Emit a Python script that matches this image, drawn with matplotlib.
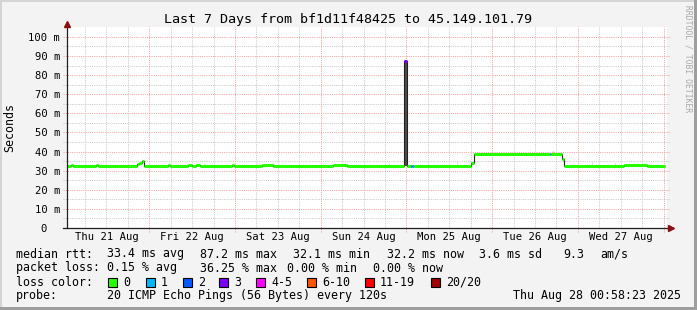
import matplotlib
matplotlib.use("Agg")
import matplotlib.pyplot as plt
from matplotlib.patches import Rectangle
from datetime import datetime, timedelta

plt.rcParams['font.family'] = ['DejaVu Sans Mono']

# ── Data (hours since start of graph) ───────────────────────────
start = datetime(2025, 8, 21, 0, 58, 23)
span_h = 168.0

seg_start = [0.0, 1.1, 1.7, 8.1, 8.7, 19.6, 20.2, 21.0, 21.6, 28.3, 28.8, 33.9, 35.0,
             36.0, 37.2, 46.2, 46.8, 54.6, 57.7, 74.5, 78.4, 94.4, 95.2, 96.3, 96.6,
             97.1, 113.2, 113.9, 135.3, 135.6, 138.5, 139.2, 156.0, 162.4]
seg_end = seg_start[1:] + [167.5]
median_ms = [32.5, 33.0, 32.5, 33.0, 32.5, 33.5, 34.0, 35.1, 32.5, 33.0, 32.5, 33.0, 32.5,
             33.0, 32.5, 33.0, 32.5, 33.0, 32.5, 33.0, 32.5, 87.2, 32.5, 32.5, 32.5,
             32.5, 34.0, 38.9, 38.9, 38.9, 36.0, 32.5, 33.0, 32.5]
loss_idx = [0, 0, 0, 0, 0, 0, 0, 0, 0, 0, 0, 0, 0,
            0, 0, 0, 0, 0, 0, 0, 0, 3, 0, 2, 1,
            0, 0, 0, 1, 0, 0, 0, 0, 0]

# smoke (spread of the individual pings)
smoke_start = [90.2, 94.4, 109.2, 136.0, 147.0, 153.4]
smoke_end = [90.5, 95.2, 109.5, 136.3, 147.3, 153.7]
smoke_lo = [32.5, 32.5, 32.5, 38.9, 32.5, 32.5]
smoke_hi = [34.0, 87.2, 34.5, 40.3, 34.5, 34.0]
smoke_density = [0.15, 0.85, 0.15, 0.2, 0.15, 0.15]

loss_labels = ['0', '1', '2', '3', '4-5', '6-10', '11-19', '20/20']
loss_colors = ['#26ff00', '#00b8ff', '#0059ff', '#7e00ff', '#ff00ff', '#ff5500', '#ff0000', '#a10000']

day_labels = ['Thu 21 Aug', 'Fri 22 Aug', 'Sat 23 Aug', 'Sun 24 Aug',
              'Mon 25 Aug', 'Tue 26 Aug', 'Wed 27 Aug']
y_ticks = [0, 10, 20, 30, 40, 50, 60, 70, 80, 90, 100]
y_labels = ['0  '] + [f'{v} m' for v in y_ticks[1:]]

title = 'Last 7 Days from bf1d11f48425 to 45.149.101.79'
legend_rows = [
    [('median rtt:', 16), ('33.4 ms avg', 107), ('87.2 ms max', 200), ('32.1 ms min', 293),
     ('32.2 ms now', 387), ('3.6 ms sd', 479), ('9.3', 563), ('am/s', 600)],
    [('packet loss:', 16), ('0.15 % avg', 107), ('36.25 % max', 200), ('0.00 % min', 287),
     ('0.00 % now', 373)],
    [('loss color:', 16)],
    [('probe:', 16), ('20 ICMP Echo Pings (56 Bytes) every 120s', 107),
     ('Thu Aug 28 00:58:23 2025', 513)],
]
box_x = [108, 146, 183, 219, 256, 307, 365, 431]

# ── Figure setup ────────────────────────────────────────────────
W, H = 697, 310
fig = plt.figure(figsize=(W / 100, H / 100), dpi=100, facecolor='#f3f3f3')
ax = fig.add_axes([67 / W, (H - 228) / H, 600 / W, 201 / H])
ax.set_facecolor('#ffffff')
ax.set_xlim(0, span_h)
ax.set_ylim(0, 105.2)
for s in ax.spines.values():
    s.set_visible(False)

# ── Grid ────────────────────────────────────────────────────────
dots = (0, (1, 1.2))
for y in range(5, 100, 10):
    ax.plot([-4 / 600, 1 + 3 / 600], [y, y], transform=ax.get_yaxis_transform(),
            clip_on=False, color='#c8c8c8', lw=0.72, ls=dots, zorder=0.5)
for y in range(10, 101, 10):
    ax.plot([-4 / 600, 1 + 3 / 600], [y, y], transform=ax.get_yaxis_transform(),
            clip_on=False, color='#f0a0a0', lw=0.72, ls=dots, zorder=0.6)

t = datetime(2025, 8, 21, 6)
while t < start + timedelta(hours=span_h):
    h = (t - start).total_seconds() / 3600
    if t.hour == 0:
        ax.plot([h, h], [-4 / 201, 1], transform=ax.get_xaxis_transform(), clip_on=False,
                color='#f0a0a0', lw=0.72, ls=dots, zorder=0.6)
    else:
        ax.plot([h, h], [0, 1], transform=ax.get_xaxis_transform(), clip_on=False,
                color='#c8c8c8', lw=0.72, ls=dots, zorder=0.5)
    t += timedelta(hours=6)

# ── Data ────────────────────────────────────────────────────────
grays = [str(round(1 - 0.82 * d, 3)) for d in smoke_density]
ax.bar(smoke_start, [hi - lo for hi, lo in zip(smoke_hi, smoke_lo)], bottom=smoke_lo,
       width=[e - s for s, e in zip(smoke_start, smoke_end)], align='edge',
       color=grays, lw=0, zorder=2)
ax.stairs(median_ms, seg_start + [seg_end[-1]], baseline=None, color='#202020', lw=0.8, zorder=3)
ax.hlines(median_ms, seg_start, seg_end, colors=[loss_colors[i] for i in loss_idx],
          lw=2.2, capstyle='butt', zorder=4)

# ── Axes, ticks & arrows ────────────────────────────────────────
noon = [(datetime(2025, 8, 21 + i, 12) - start).total_seconds() / 3600 for i in range(7)]
ax.set_xticks(noon)
ax.set_xticklabels(day_labels, fontsize=7.6)
ax.set_yticks(y_ticks)
ax.set_yticklabels(y_labels, fontsize=7.6)
ax.tick_params(axis='x', length=0, pad=3)
ax.tick_params(axis='y', length=0, pad=5)

ax.plot([0, 0], [0, 1.015], transform=ax.transAxes, clip_on=False, color='#202020', lw=0.9, zorder=5)
ax.plot([-4 / 600, 1.006], [0, 0], transform=ax.transAxes, clip_on=False, color='#202020', lw=0.9, zorder=5)
ax.plot([0], [1.017], marker='^', ms=4.5, color='#8b1010', transform=ax.transAxes, clip_on=False, zorder=6)
ax.plot([1.0067], [0], marker='>', ms=4.5, color='#8b1010', transform=ax.transAxes, clip_on=False, zorder=6)

ax.set_ylabel('Seconds', fontsize=8.4)
ax.yaxis.label.set_va('center')
ax.yaxis.set_label_coords((10 - 67) / 600, 0.5)

# ── Title, watermark, legend ────────────────────────────────────
fig.text(348.5 / W, 1 - 19 / H, title, ha='center', va='center', fontsize=9.6)
fig.text(688 / W, 1 - 5 / H, 'RRDTOOL / TOBI OETIKER', rotation=270, ha='center', va='top',
         fontsize=5.8, color='#a8a8a8')

row_y = [254, 268, 282, 296]
for row, y in zip(legend_rows, row_y):
    for txt, x in row:
        fig.text(x / W, 1 - y / H, txt, ha='left', va='center', fontsize=8.4)

for bx, lab, col in zip(box_x, loss_labels, loss_colors):
    fig.patches.append(Rectangle((bx / W, 1 - 286.5 / H), 9 / W, 9 / H, transform=fig.transFigure,
                                 facecolor=col, edgecolor='black', lw=0.8))
    fig.text((bx + 15) / W, 1 - 282 / H, lab, ha='left', va='center', fontsize=8.4)

# ── Frame ───────────────────────────────────────────────────────
fig.patches.append(Rectangle((0, 1 - 2 / H), 1, 2 / H, transform=fig.transFigure, color='#d4d4d4', lw=0))
fig.patches.append(Rectangle((0, 0), 2 / W, 1, transform=fig.transFigure, color='#d4d4d4', lw=0))
fig.patches.append(Rectangle((0, 0), 1, 3 / H, transform=fig.transFigure, color='#9e9e9e', lw=0))
fig.patches.append(Rectangle((1 - 3 / W, 0), 3 / W, 1, transform=fig.transFigure, color='#9e9e9e', lw=0))

fig.savefig('out.png', dpi=100, facecolor=fig.get_facecolor())
